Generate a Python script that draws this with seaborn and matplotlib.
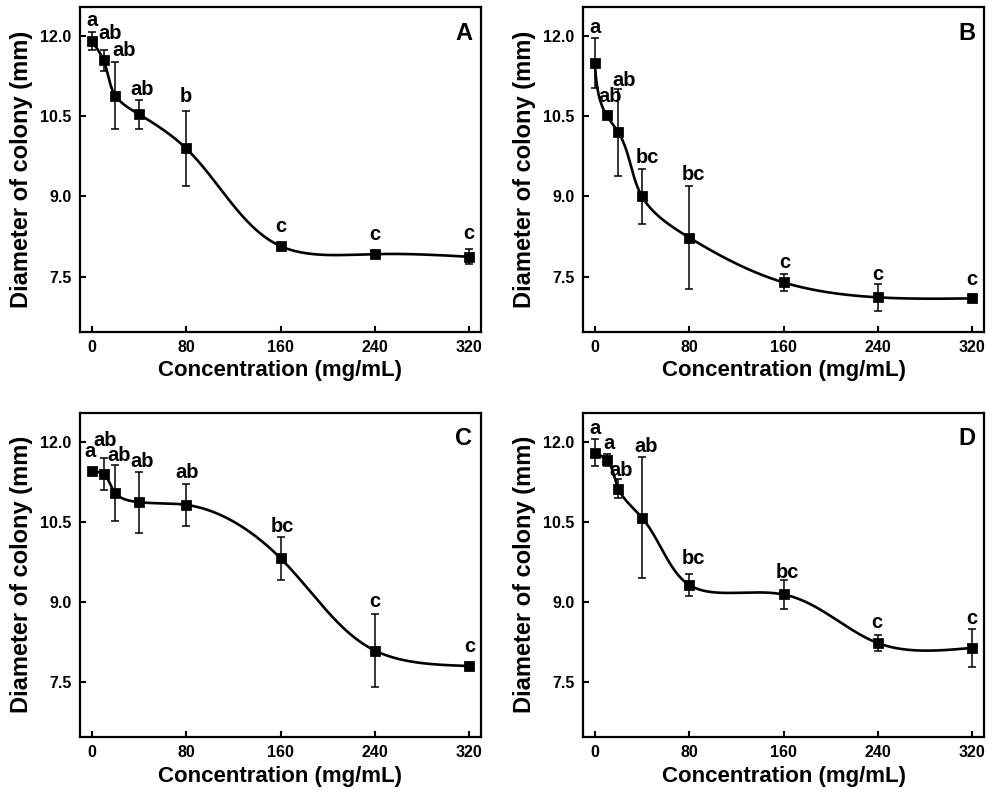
import numpy as np
import pandas as pd
import matplotlib
matplotlib.use("Agg")
import matplotlib.pyplot as plt
import seaborn as sns

# ---------------- data ----------------
conc = [0, 10, 20, 40, 80, 160, 240, 320]

mean_A = [11.91, 11.55, 10.89, 10.54, 9.90, 8.07, 7.92, 7.87]
err_A = [0.17, 0.20, 0.63, 0.27, 0.70, 0.05, 0.06, 0.14]
let_A = ["a", "ab", "ab", "ab", "b", "c", "c", "c"]

mean_B = [11.50, 10.52, 10.20, 9.00, 8.23, 7.39, 7.11, 7.09]
err_B = [0.47, 0.07, 0.82, 0.52, 0.97, 0.16, 0.25, 0.05]
let_B = ["a", "ab", "ab", "bc", "bc", "c", "c", "c"]

mean_C = [11.46, 11.39, 11.04, 10.87, 10.82, 9.82, 8.09, 7.80]
err_C = [0.03, 0.30, 0.52, 0.57, 0.39, 0.40, 0.69, 0.04]
let_C = ["a", "ab", "ab", "ab", "ab", "bc", "c", "c"]

mean_D = [11.80, 11.66, 11.12, 10.58, 9.32, 9.14, 8.23, 8.14]
err_D = [0.25, 0.12, 0.18, 1.14, 0.20, 0.28, 0.15, 0.36]
let_D = ["a", "a", "ab", "ab", "bc", "bc", "c", "c"]

panel_names = ["A", "B", "C", "D"]
x_ticks = [0, 80, 160, 240, 320]
y_ticks = [7.5, 9.0, 10.5, 12.0]
x_label = "Concentration (mg/mL)"
y_label = "Diameter of colony (mm)"

# label offsets in pixels (style only): horizontal and gap above error bar
nudge_px = {
    "A": ([0, 7, 9, 3, 0, 0, 0, 0], [6, 11, 6, 5, 9, 11, 11, 10]),
    "B": ([0, 4, 6, 5, 4, 1, 0, 0], [5, 10, 3, 6, 6, 6, 4, 11]),
    "C": ([-2, 2, 4, 3, 1, 2, 0, 1], [12, 12, 4, 5, 6, 5, 7, 12]),
    "D": ([0, 2, 3, 4, 4, 4, -1, 0], [5, 5, 3, 5, 10, 2, 7, 5]),
}

XLIM = (-10, 330)
YLIM = (6.47, 12.55)
AW, AH = 401.0, 324.5


def nat_spline_eval(t, y, ts):
    n = len(t)
    h = np.diff(t)
    A = np.zeros((n, n))
    r = np.zeros(n)
    A[0, 0] = 1.0
    A[-1, -1] = 1.0
    for i in range(1, n - 1):
        A[i, i - 1] = h[i - 1]
        A[i, i] = 2 * (h[i - 1] + h[i])
        A[i, i + 1] = h[i]
        r[i] = 3 * ((y[i + 1] - y[i]) / h[i] - (y[i] - y[i - 1]) / h[i - 1])
    c = np.linalg.solve(A, r)
    b = (y[1:] - y[:-1]) / h - h * (2 * c[:-1] + c[1:]) / 3
    d = (c[1:] - c[:-1]) / (3 * h)
    idx = np.clip(np.searchsorted(t, ts) - 1, 0, n - 2)
    dt = ts - t[idx]
    return y[idx] + b[idx] * dt + c[idx] * dt ** 2 + d[idx] * dt ** 3


def parametric_spline(x, y, npts=800):
    # chord-length parametric cubic spline in screen (pixel) space
    x = np.asarray(x, float)
    y = np.asarray(y, float)
    px = (x - XLIM[0]) / (XLIM[1] - XLIM[0]) * AW
    py = (y - YLIM[0]) / (YLIM[1] - YLIM[0]) * AH
    seg = np.hypot(np.diff(px), np.diff(py))
    t = np.concatenate([[0], np.cumsum(seg)])
    ts = np.linspace(0, t[-1], npts)
    sx = nat_spline_eval(t, px, ts)
    sy = nat_spline_eval(t, py, ts)
    xs = sx / AW * (XLIM[1] - XLIM[0]) + XLIM[0]
    ys = sy / AH * (YLIM[1] - YLIM[0]) + YLIM[0]
    return xs, ys


sns.set_style("ticks")
plt.rcParams["font.family"] = ["Liberation Sans", "DejaVu Sans"]
plt.rcParams["font.weight"] = "bold"
plt.rcParams["axes.labelweight"] = "bold"
for k in ["text.color", "axes.labelcolor", "xtick.color", "ytick.color", "axes.edgecolor"]:
    plt.rcParams[k] = "black"

DPI = 100
fig = plt.figure(figsize=(9.97, 7.92), dpi=DPI)
W, H = 997.0, 792.0
boxes = [(80, 7), (583, 7), (80, 412.5), (583, 412.5)]

datasets = [
    (mean_A, err_A, let_A),
    (mean_B, err_B, let_B),
    (mean_C, err_C, let_C),
    (mean_D, err_D, let_D),
]
px2pt = 72.0 / DPI

for (lx, ty), name, (m, e, lets) in zip(boxes, panel_names, datasets):
    ax = fig.add_axes([lx / W, 1 - (ty + AH) / H, AW / W, AH / H])
    xs, ys = parametric_spline(conc, m)
    curve = pd.DataFrame({"x": xs, "y": ys})
    pts = pd.DataFrame({"x": conc, "y": m, "e": e})
    sns.lineplot(data=curve, x="x", y="y", ax=ax, color="black", lw=1.9,
                 sort=False, estimator=None)
    ax.errorbar(pts["x"], pts["y"], yerr=pts["e"], fmt="none", ecolor="black",
                elinewidth=1.1, capsize=3, capthick=1.1, zorder=3)
    sns.scatterplot(data=pts, x="x", y="y", ax=ax, marker="s", s=46,
                    color="black", edgecolor="black", zorder=4)
    dxs, dys = nudge_px[name]
    for xi, yi, ei, t, dxp, dyp in zip(conc, m, e, lets, dxs, dys):
        ax.annotate(t, (xi, yi + ei), xytext=(dxp * px2pt, dyp * px2pt),
                    textcoords="offset points", ha="center", va="baseline",
                    fontsize=14.5, fontweight="bold")
    ax.set_xlim(*XLIM)
    ax.set_ylim(*YLIM)
    ax.set_xticks(x_ticks)
    ax.set_yticks(y_ticks)
    ax.set_yticklabels([f"{v:.1f}" for v in y_ticks])
    ax.tick_params(direction="in", length=4, width=1.5, labelsize=11.5,
                   top=False, right=False, pad=6)
    for s in ax.spines.values():
        s.set_linewidth(1.6)
        s.set_visible(True)
    ax.set_xlabel(x_label, fontsize=16, fontweight="bold", labelpad=4)
    ax.set_ylabel(y_label, fontsize=17, fontweight="bold", labelpad=5)
    ax.text(0.978, 0.955, name, transform=ax.transAxes, ha="right", va="top",
            fontsize=17, fontweight="bold")

fig.savefig("out.png", dpi=DPI)
